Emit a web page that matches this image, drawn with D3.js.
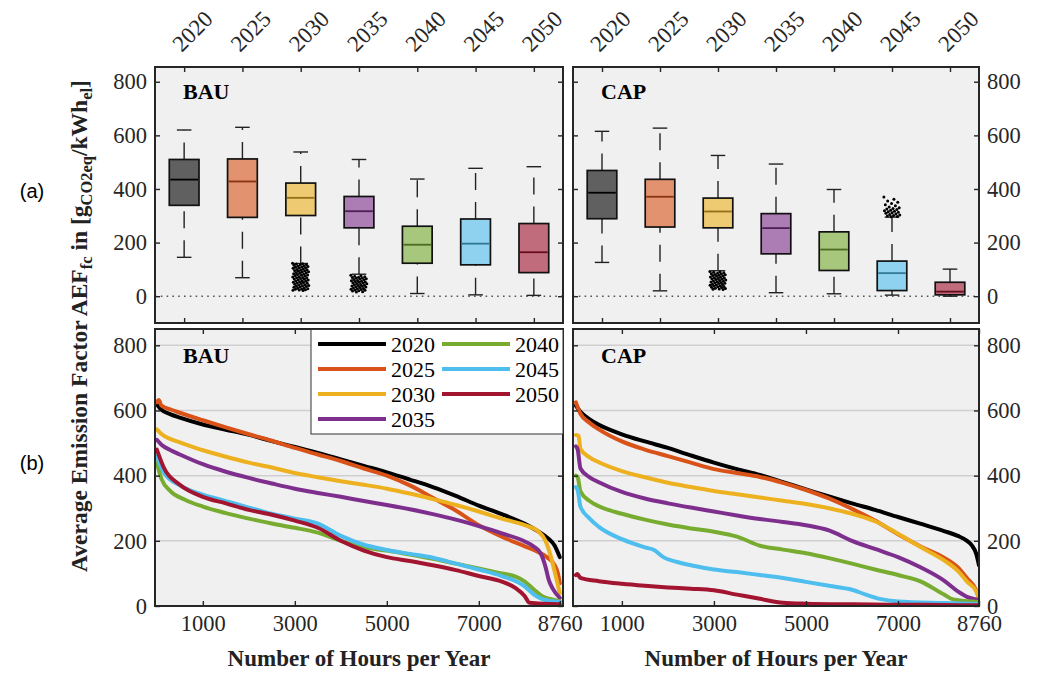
<!DOCTYPE html>
<html><head><meta charset="utf-8">
<script src="https://cdn.jsdelivr.net/npm/d3@7"></script>
<style>body{margin:0;background:#fff}svg{display:block}</style>
</head><body><svg id="c" width="1038" height="673"></svg>
<script>
// ---------------- data ----------------
const years = ["2020","2025","2030","2035","2040","2045","2050"];
const colors = ["#000000","#D95319","#EDB120","#7E2F8E","#77AC30","#4DBEEE","#A2142F"];
const scenarios = ["BAU","CAP"];

// box plot statistics (g/kWh)
const bauUpper = [620, 630, 538, 510, 437, 477, 483];
const bauQ3    = [510, 512, 422, 372, 261, 288, 271];
const bauMed   = [435, 428, 367, 317, 192, 196, 164];
const bauQ1    = [339, 294, 301, 255, 123, 117, 88];
const bauLower = [145, 69, 122, 82, 10, 5, 3];

const capUpper = [615, 627, 525, 493, 398, 295, 101];
const capQ3    = [469, 436, 366, 308, 240, 131, 52];
const capMed   = [386, 371, 316, 254, 174, 86, 17];
const capQ1    = [289, 258, 255, 158, 96, 21, 5];
const capLower = [126, 20, 95, 13, 9, 4, 0];

// outliers
const bauOut2030 = [123,121,120,118,117,115,114,112,111,109,108,106,105,104,102,100,99,97,96,95,93,91,90,88,87,86,84,82,81,79,78,77,75,73,72,70,69,68,66,64,63,61,60,58,57,56,54,52,51,49,48,47,45,43,42,40,39,37,36,35,33,31,30,28,27,26,24,23,22,21];
const bauOut2035 = [78,76,74,73,71,70,68,67,65,64,62,61,59,58,56,55,53,52,50,49,47,46,44,43,41,40,38,37,35,34,32,31,29,28,26,25,23,22,20,19,17,16];
const capOut2030 = [92,90,89,87,86,84,83,81,80,78,77,75,74,72,71,69,68,66,65,63,62,60,59,57,56,54,53,51,50,48,47,45,44,42,41,39,38,36,35,33,32,30,29,27,26,25];
const capOut2045 = [370,362,355,350,346,341,337,333,330,327,325,323,321,319,317,315,313,311,309,307,305,303,301,299,297,296];

// load duration curves [hour, g/kWh]
const bau2020 = [[0,618],[100,602],[300,588],[500,578],[1000,557],[1500,541],[2000,525],[2500,506],[3000,488],[3500,470],[4000,450],[4500,430],[5000,410],[5500,388],[6000,365],[6500,338],[7000,308],[7500,282],[8000,252],[8300,228],[8500,208],[8650,185],[8760,150]];
const bau2025 = [[0,625],[40,632],[100,615],[300,603],[500,593],[1000,570],[1500,548],[2000,527],[2500,507],[3000,485],[3500,465],[4000,445],[4500,422],[5000,400],[5500,370],[6000,332],[6500,293],[7000,248],[7500,213],[8000,183],[8300,165],[8480,150],[8650,125],[8720,100],[8760,70]];
const bau2030 = [[0,542],[100,528],[300,512],[500,502],[1000,478],[1500,458],[2000,440],[2500,425],[3000,408],[3500,395],[4000,383],[4500,372],[5000,360],[5500,345],[6000,328],[6500,310],[7000,290],[7500,268],[8000,248],[8300,228],[8450,200],[8550,160],[8650,105],[8760,40]];
const bau2035 = [[0,510],[100,495],[300,478],[500,465],[1000,435],[1500,412],[2000,393],[2500,376],[3000,360],[3500,347],[4000,335],[4500,322],[5000,310],[5500,297],[6000,282],[6500,265],[7000,245],[7500,223],[8000,198],[8200,182],[8350,160],[8450,120],[8520,80],[8600,55],[8760,25]];
const bau2040 = [[0,440],[100,390],[300,352],[600,327],[1000,305],[1500,285],[2000,268],[2500,253],[3000,240],[3500,225],[4000,200],[4500,180],[5000,170],[5500,158],[6000,145],[6500,130],[7000,115],[7500,100],[7800,90],[8000,75],[8200,50],[8400,28],[8600,20],[8760,15]];
const bau2045 = [[0,460],[150,410],[500,370],[1000,342],[1500,322],[2000,302],[2500,283],[3000,268],[3500,253],[4000,215],[4500,188],[5000,172],[5500,160],[6000,148],[6500,130],[7000,112],[7500,92],[8000,60],[8200,35],[8400,20],[8760,12]];
const bau2050 = [[0,480],[150,425],[500,372],[1000,335],[1500,315],[2000,295],[2500,280],[3000,262],[3500,240],[4000,200],[4500,170],[5000,150],[5500,138],[6000,125],[6500,110],[7000,92],[7500,75],[7800,55],[8000,30],[8100,10],[8760,5]];

const cap2020 = [[0,615],[100,596],[300,573],[500,556],[1000,527],[1500,505],[2000,485],[2500,462],[3000,440],[3500,420],[4000,402],[4500,380],[5000,358],[5500,336],[6000,315],[6500,295],[7000,273],[7500,252],[8000,230],[8300,215],[8500,200],[8600,187],[8700,160],[8760,125]];
const cap2025 = [[0,625],[100,590],[300,562],[500,542],[1000,505],[1500,480],[2000,460],[2500,440],[3000,420],[3500,408],[4000,396],[4500,378],[5000,356],[5500,330],[6000,298],[6500,262],[7000,220],[7500,182],[8000,148],[8300,118],[8500,85],[8700,48],[8760,22]];
const cap2030 = [[0,525],[60,522],[100,482],[300,456],[500,441],[1000,414],[1500,395],[2000,378],[2500,365],[3000,353],[3500,343],[4000,333],[4500,323],[5000,313],[5500,300],[6000,283],[6500,260],[7000,222],[7500,180],[8000,140],[8300,108],[8500,75],[8700,45],[8760,25]];
const cap2035 = [[0,490],[40,480],[100,422],[300,395],[500,380],[1000,350],[1500,330],[2000,315],[2500,302],[3000,290],[3500,278],[4000,267],[4500,258],[5000,248],[5500,232],[6000,200],[6500,175],[7000,150],[7500,118],[8000,78],[8300,45],[8500,28],[8760,18]];
const cap2040 = [[0,400],[40,395],[100,352],[300,322],[500,306],[1000,283],[1500,265],[2000,250],[2500,238],[3000,228],[3500,213],[4000,185],[4500,173],[5000,162],[5500,147],[6000,130],[6500,112],[7000,95],[7500,75],[8000,35],[8200,20],[8760,12]];
const cap2045 = [[0,365],[40,355],[100,305],[300,268],[500,243],[1000,205],[1500,180],[1700,172],[1900,150],[2200,135],[2500,125],[3000,112],[3500,104],[4000,95],[4500,86],[5000,74],[5500,62],[6000,50],[6300,35],[6600,22],[7000,14],[8000,9],[8760,6]];
const cap2050 = [[0,95],[30,98],[100,86],[500,76],[1000,68],[1500,62],[2000,57],[2500,53],[3000,48],[3500,35],[4000,22],[4500,10],[5000,7],[6000,5],[7000,4],[8000,3],[8760,2]];

const yTicks = [0,200,400,600,800];
const hourTicks = [1000,3000,5000,7000,8760];

// --------------- assemble ---------------
const boxStats = {
  BAU: years.map((y,i)=>({year:y, lo:bauLower[i], q1:bauQ1[i], med:bauMed[i], q3:bauQ3[i], hi:bauUpper[i], color:colors[i]})),
  CAP: years.map((y,i)=>({year:y, lo:capLower[i], q1:capQ1[i], med:capMed[i], q3:capQ3[i], hi:capUpper[i], color:colors[i]}))
};
const outliers = {
  BAU: [{year:"2030", vals:bauOut2030},{year:"2035", vals:bauOut2035}],
  CAP: [{year:"2030", vals:capOut2030},{year:"2045", vals:capOut2045}]
};
const curves = {
  BAU: [bau2020,bau2025,bau2030,bau2035,bau2040,bau2045,bau2050],
  CAP: [cap2020,cap2025,cap2030,cap2035,cap2040,cap2045,cap2050]
};

// --------------- layout ---------------
const SERIF = "'Liberation Serif','Times New Roman',serif";
const SANS = "'Liberation Sans',Arial,sans-serif";
const AX = "#262626";
const cols = {BAU:{x0:155,x1:563,side:"left",hdom:[-40,8830]}, CAP:{x0:573,x1:979,side:"right",hdom:[-62,8760]}};
const rowA = {y0:67,y1:323};
const rowB = {y0:329,y1:606};

const svg = d3.select("#c");

function styleAxis(g){
  g.select(".domain").remove();
  g.selectAll(".tick line").attr("stroke",AX).attr("stroke-width",1.4);
  g.selectAll(".tick text").attr("fill",AX).style("font-family",SERIF).style("font-size","22.5px");
}

function ticksY(g, y, x0, x1, side){
  const left = g.append("g").attr("transform",`translate(${x0},0)`)
    .call(d3.axisLeft(y).tickValues(yTicks).tickSizeInner(-5).tickSizeOuter(0).tickPadding(8)
      .tickFormat(side==="left"? d3.format("d") : ()=>""));
  styleAxis(left);
  const right = g.append("g").attr("transform",`translate(${x1},0)`)
    .call(d3.axisRight(y).tickValues(yTicks).tickSizeInner(-5).tickSizeOuter(0).tickPadding(8)
      .tickFormat(side==="right"? d3.format("d") : ()=>""));
  styleAxis(right);
}

scenarios.forEach(sc=>{
  const c = cols[sc];
  // ---------- (a) box plots ----------
  {
    const g = svg.append("g");
    const x = d3.scalePoint().domain(years).range([c.x0,c.x1]).padding(0.5);
    const step = x.step();
    const y = d3.scaleLinear().domain([-100,855]).range([rowA.y1,rowA.y0]);
    g.append("rect").attr("x",c.x0).attr("y",rowA.y0).attr("width",c.x1-c.x0).attr("height",rowA.y1-rowA.y0).attr("fill","#f0f0f0");
    g.append("line").attr("x1",c.x0).attr("x2",c.x1).attr("y1",y(0)).attr("y2",y(0))
      .attr("stroke","#555").attr("stroke-width",1.6).attr("stroke-dasharray","1.6,4.2");
    const bw = step*0.51, cw = step*0.25;
    boxStats[sc].forEach(d=>{
      const cx = x(d.year);
      g.append("line").attr("x1",cx).attr("x2",cx).attr("y1",y(d.q3)).attr("y2",y(d.hi))
        .attr("stroke","#222").attr("stroke-width",1.4).attr("stroke-dasharray","17,12");
      g.append("line").attr("x1",cx).attr("x2",cx).attr("y1",y(d.lo)).attr("y2",y(d.q1))
        .attr("stroke","#222").attr("stroke-width",1.4).attr("stroke-dasharray","17,12");
      [d.hi,d.lo].forEach(v=>g.append("line").attr("x1",cx-cw/2).attr("x2",cx+cw/2).attr("y1",y(v)).attr("y2",y(v))
        .attr("stroke","#222").attr("stroke-width",1.4));
      g.append("rect").attr("x",cx-bw/2).attr("y",y(d.q3)).attr("width",bw).attr("height",y(d.q1)-y(d.q3))
        .attr("fill",d.color).attr("fill-opacity",0.6).attr("stroke","#111").attr("stroke-width",1.7);
      g.append("line").attr("x1",cx-bw/2+1).attr("x2",cx+bw/2-1).attr("y1",y(d.med)).attr("y2",y(d.med))
        .attr("stroke",d3.color(d.color).darker(1.3)).attr("stroke-width",1.8);
    });
    outliers[sc].forEach(o=>{
      const cx = x(o.year);
      g.append("g").selectAll("circle").data(o.vals).join("circle")
        .attr("cx",(v,i)=>cx + (((i*0.618034)%1)-0.5)*step*0.28)
        .attr("cy",v=>y(v)).attr("r",1.5).attr("fill","#000");
    });
    ticksY(g,y,c.x0,c.x1,c.side);
    const tAx = g.append("g").attr("transform",`translate(0,${rowA.y0})`)
      .call(d3.axisTop(x).tickSizeInner(-5).tickSizeOuter(0));
    styleAxis(tAx);
    tAx.selectAll(".tick text").attr("x",0).attr("y",0).attr("dy",0).style("font-size","23px")
      .attr("text-anchor","start").attr("transform","translate(-3,-14) rotate(-45)");
    const bAx = g.append("g").attr("transform",`translate(0,${rowA.y1})`)
      .call(d3.axisBottom(x).tickSizeInner(-5).tickSizeOuter(0).tickFormat(()=>""));
    styleAxis(bAx);
    g.append("rect").attr("x",c.x0).attr("y",rowA.y0).attr("width",c.x1-c.x0).attr("height",rowA.y1-rowA.y0)
      .attr("fill","none").attr("stroke",AX).attr("stroke-width",2);
    g.append("text").attr("x",c.x0+28).attr("y",99).text(sc)
      .style("font-family",SERIF).style("font-size","22px").style("font-weight","bold").attr("fill","#000");
  }
  // ---------- (b) duration curves ----------
  {
    const g = svg.append("g");
    const x = d3.scaleLinear().domain(c.hdom).range([c.x0,c.x1]);
    const y = d3.scaleLinear().domain([0,850]).range([rowB.y1,rowB.y0]);
    g.append("rect").attr("x",c.x0).attr("y",rowB.y0).attr("width",c.x1-c.x0).attr("height",rowB.y1-rowB.y0).attr("fill","#f0f0f0");
    yTicks.filter(v=>v>0).forEach(v=>g.append("line").attr("x1",c.x0).attr("x2",c.x1).attr("y1",y(v)).attr("y2",y(v))
      .attr("stroke","#cfcfcf").attr("stroke-width",1.5));
    const clipId = "clip"+sc;
    svg.append("clipPath").attr("id",clipId).append("rect")
      .attr("x",c.x0).attr("y",rowB.y0).attr("width",c.x1-c.x0).attr("height",rowB.y1-rowB.y0);
    const line = d3.line().x(d=>x(d[0])).y(d=>y(d[1])).curve(d3.curveMonotoneX);
    const lg = g.append("g").attr("clip-path",`url(#${clipId})`);
    curves[sc].forEach((s,i)=>{
      lg.append("path").attr("d",line(s)).attr("fill","none").attr("stroke",colors[i])
        .attr("stroke-width",4).attr("stroke-linejoin","round").attr("stroke-linecap","round");
    });
    ticksY(g,y,c.x0,c.x1,c.side);
    const tAx = g.append("g").attr("transform",`translate(0,${rowB.y0})`)
      .call(d3.axisTop(x).tickValues(hourTicks).tickSizeInner(-5).tickSizeOuter(0).tickFormat(()=>""));
    styleAxis(tAx);
    const bAx = g.append("g").attr("transform",`translate(0,${rowB.y1})`)
      .call(d3.axisBottom(x).tickValues(hourTicks).tickSizeInner(-5).tickSizeOuter(0).tickPadding(9).tickFormat(d3.format("d")));
    styleAxis(bAx);
    g.append("rect").attr("x",c.x0).attr("y",rowB.y0).attr("width",c.x1-c.x0).attr("height",rowB.y1-rowB.y0)
      .attr("fill","none").attr("stroke",AX).attr("stroke-width",2);
    g.append("text").attr("x",c.x0+28).attr("y",363).text(sc)
      .style("font-family",SERIF).style("font-size","22px").style("font-weight","bold").attr("fill","#000");
    g.append("text").attr("x",(c.x0+c.x1)/2).attr("y",666).attr("text-anchor","middle")
      .text("Number of Hours per Year")
      .style("font-family",SERIF).style("font-size","23px").style("font-weight","bold").attr("fill","#222");

    if(sc==="BAU"){
      const L = svg.append("g");
      L.append("rect").attr("x",311).attr("y",329.5).attr("width",252).attr("height",104.5)
        .attr("fill","#fff").attr("stroke","#333").attr("stroke-width",1);
      years.forEach((yr,i)=>{
        const col = i<4?0:1, row = i<4?i:i-4;
        const lx = col===0?318:442, ty = 344+row*25;
        L.append("line").attr("x1",lx).attr("x2",lx+68).attr("y1",ty).attr("y2",ty)
          .attr("stroke",colors[i]).attr("stroke-width",4);
        L.append("text").attr("x",lx+73).attr("y",ty).attr("dy","0.35em").text(yr)
          .style("font-family",SERIF).style("font-size","22px").attr("fill","#000");
      });
    }
  }
});

// y-axis title
const yt = svg.append("text").attr("transform","translate(87,326) rotate(-90)").attr("text-anchor","middle")
  .style("font-family",SERIF).style("font-size","23.5px").style("font-weight","bold").attr("fill","#222");
yt.append("tspan").text("Average Emission Factor AEF");
yt.append("tspan").attr("baseline-shift","-30%").style("font-size","16.5px").text("fc");
yt.append("tspan").text(" in [g");
yt.append("tspan").attr("baseline-shift","-30%").style("font-size","16.5px").text("CO2eq");
yt.append("tspan").text("/kWh");
yt.append("tspan").attr("baseline-shift","-30%").style("font-size","16.5px").text("el");
yt.append("tspan").text("]");

// panel tags
svg.append("text").attr("x",32).attr("y",191).attr("dy","0.35em").attr("text-anchor","middle").text("(a)")
  .style("font-family",SANS).style("font-size","20px").attr("fill","#000");
svg.append("text").attr("x",32).attr("y",463).attr("dy","0.35em").attr("text-anchor","middle").text("(b)")
  .style("font-family",SANS).style("font-size","20px").attr("fill","#000");
</script></body></html>
